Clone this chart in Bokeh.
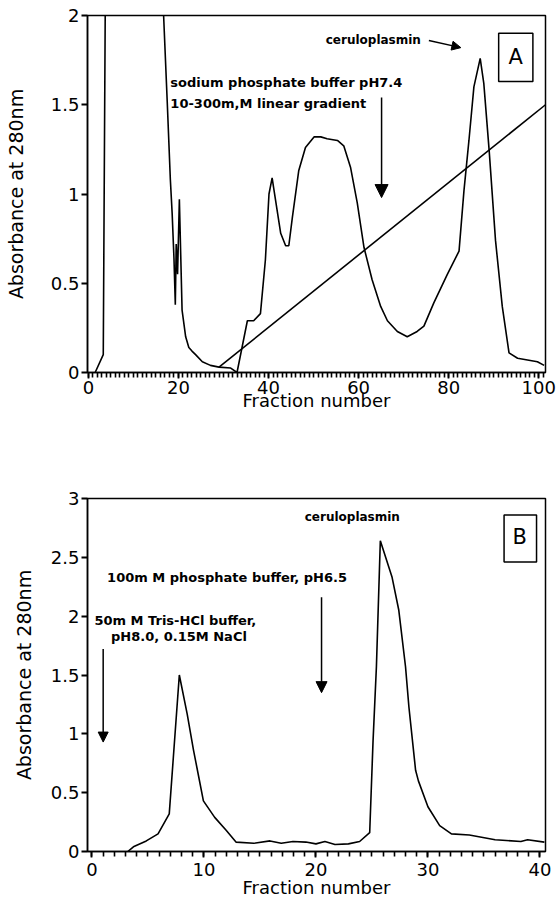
from bokeh.plotting import figure
from bokeh.models import FixedTicker, Arrow, NormalHead, BoxAnnotation, Range1d, Label
from bokeh.layouts import column
from bokeh.embed import file_html
from bokeh.resources import INLINE

# ---------------- Panel A data ----------------
frac_a = [1.5, 3.3, 3.8, 16.5, 16.7, 17.5, 18.2, 18.6, 19.0, 19.3, 19.5, 19.8, 20.2, 20.5, 20.8,
          21.6, 22.3, 23.0, 23.8, 25.3, 27.1, 29.0, 31.6, 33.0, 35.3, 36.7, 38.2, 39.3, 40.1,
          40.8, 41.1, 42.7, 43.8, 44.5, 45.3, 46.7, 48.2, 50.1, 51.6, 53.0, 55.3, 56.7, 58.2,
          59.7, 61.2, 63.0, 64.9, 66.4, 68.6, 70.8, 73.0, 74.5, 76.7, 79.7, 82.3, 83.4, 84.5,
          85.6, 87.0, 87.8, 89.0, 90.4, 91.9, 93.4, 95.3, 97.5, 99.7, 101.2]
abs_a = [0.0, 0.10, 2.3, 2.3, 2.0, 1.52, 1.08, 0.89, 0.64, 0.38, 0.72, 0.55, 0.97, 0.66, 0.35,
         0.20, 0.14, 0.12, 0.10, 0.06, 0.04, 0.03, 0.025, 0.0, 0.29, 0.29, 0.33, 0.63, 1.00,
         1.09, 1.04, 0.78, 0.71, 0.71, 0.87, 1.13, 1.26, 1.32, 1.32, 1.31, 1.30, 1.27, 1.15,
         0.95, 0.70, 0.52, 0.37, 0.29, 0.23, 0.20, 0.23, 0.26, 0.39, 0.55, 0.68, 1.02, 1.30,
         1.60, 1.76, 1.62, 1.24, 0.74, 0.37, 0.11, 0.08, 0.07, 0.06, 0.04]
gradient_frac_a = [29.0, 101.5]
gradient_abs_a = [0.03, 1.50]
x_ticks_a = [0, 20, 40, 60, 80, 100]
x_minor_ticks_a = list(range(0, 102))
y_ticks_a = [0, 0.5, 1, 1.5, 2]
y_tick_labels_a = ["0", "0.5", "1", "1.5", "2"]

# ---------------- Panel B data ----------------
frac_b = [3.2, 3.7, 4.85, 5.9, 6.9, 7.8, 8.5, 9.07, 9.5, 9.95, 10.96, 11.98, 12.86, 14.45,
          15.9, 16.9, 17.95, 19.1, 20.0, 20.8, 21.7, 22.9, 23.9, 24.8, 25.1, 25.4, 25.75,
          26.8, 27.4, 28.0, 28.3, 28.9, 29.15, 30.0, 31.05, 32.1, 33.7, 36.0, 38.3, 38.9, 40.4]
abs_b = [0.0, 0.04, 0.09, 0.15, 0.32, 1.50, 1.17, 0.86, 0.65, 0.43, 0.29, 0.18, 0.08, 0.07,
         0.09, 0.07, 0.085, 0.08, 0.065, 0.085, 0.06, 0.065, 0.085, 0.16, 0.94, 1.57, 2.64,
         2.33, 2.05, 1.57, 1.23, 0.69, 0.60, 0.38, 0.22, 0.15, 0.14, 0.10, 0.085, 0.10, 0.08]
x_ticks_b = [0, 10, 20, 30, 40]
x_minor_ticks_b = list(range(0, 41))
y_ticks_b = [0, 0.5, 1, 1.5, 2, 2.5, 3]
y_tick_labels_b = ["0", "0.5", "1", "1.5", "2", "2.5", "3"]

FONT = "DejaVu Sans"


def make_fig(height, xr, yr, bl, bt, bb, br, xticks, xminor, yticks, ylabels,
             ystand, xlabstand, xstand):
    p = figure(width=558, height=height, x_range=Range1d(*xr), y_range=Range1d(*yr),
               output_backend="svg", toolbar_location=None,
               min_border_left=bl, min_border_top=bt, min_border_bottom=bb, min_border_right=br)
    p.xgrid.visible = False
    p.ygrid.visible = False
    p.outline_line_color = "black"
    p.outline_line_width = 1.5
    p.outline_line_alpha = 1
    p.background_fill_color = "white"
    p.border_fill_color = "white"
    xax = p.xaxis[0]
    yax = p.yaxis[0]
    xax.ticker = FixedTicker(ticks=xticks, minor_ticks=xminor)
    yax.ticker = FixedTicker(ticks=yticks, minor_ticks=[])
    yax.major_label_overrides = dict(zip(yticks, ylabels))
    for ax in (xax, yax):
        ax.axis_line_width = 1.5
        ax.axis_line_color = "black"
        ax.major_tick_line_color = "black"
        ax.minor_tick_line_color = "black"
        ax.major_tick_line_width = 1.8
        ax.minor_tick_line_width = 1.6
        ax.major_tick_out = 6
        ax.major_tick_in = 0
        ax.minor_tick_in = 0
        ax.minor_tick_out = 5
        ax.major_label_text_font = FONT
        ax.major_label_text_font_size = "18px"
        ax.major_label_text_color = "black"
        ax.axis_label_text_font = FONT
        ax.axis_label_text_font_style = "normal"
        ax.axis_label_text_color = "black"
    xax.major_label_standoff = xlabstand
    yax.major_label_standoff = 2
    xax.axis_label = "Fraction number"
    xax.axis_label_text_font_size = "18px"
    xax.axis_label_standoff = xstand
    yax.axis_label = "Absorbance at 280nm"
    yax.axis_label_text_font_size = "19px"
    yax.axis_label_standoff = ystand
    return p


def note(p, x, y, text, size="13px", bold=True, align="left"):
    p.add_layout(Label(x=x, y=y, text=text, text_font=FONT,
                       text_font_style="bold" if bold else "normal",
                       text_font_size=size, text_color="black",
                       text_baseline="middle", text_align=align))


def arrow(p, x0, y0, x1, y1, size):
    p.add_layout(Arrow(end=NormalHead(size=size, fill_color="black", line_color="black", line_width=1),
                       x_start=x0, y_start=y0, x_end=x1, y_end=y1,
                       line_color="black", line_width=1.5))


def box(p, l, r, b, t):
    p.add_layout(BoxAnnotation(left=l, right=r, bottom=b, top=t, fill_alpha=0,
                               line_color="black", line_alpha=1, line_width=1.5))


# ---------------- Panel A ----------------
pa = make_fig(419, (-0.2, 101.5), (0, 2), 87, 15, 47, 13,
              x_ticks_a, x_minor_ticks_a, y_ticks_a, y_tick_labels_a, 21, 2, -7)
pa.line(frac_a, abs_a, line_color="black", line_width=1.6)
pa.line(gradient_frac_a, gradient_abs_a, line_color="black", line_width=1.6)
note(pa, 52.7, 1.865, "ceruloplasmin", size="12px")
arrow(pa, 75.6, 1.86, 82.7, 1.82, 9)
note(pa, 18.2, 1.625, "sodium phosphate buffer pH7.4")
note(pa, 18.2, 1.507, "10-300m,M linear gradient")
arrow(pa, 65.1, 1.54, 65.1, 0.98, 13)
box(pa, 91.1, 98.7, 1.63, 1.90)
note(pa, 94.9, 1.765, "A", size="21px", bold=False, align="center")

# ---------------- Panel B ----------------
pb = make_fig(488, (-0.4, 40.5), (0, 3), 80, 79, 56, 10,
              x_ticks_b, x_minor_ticks_b, y_ticks_b, y_tick_labels_b, 13, 5, -2)
pb.line(frac_b, abs_b, line_color="black", line_width=1.6)
note(pb, 19.0, 2.84, "ceruloplasmin", size="12px")
note(pb, 1.35, 2.33, "100m M phosphate buffer, pH6.5")
note(pb, 0.22, 1.96, "50m M Tris-HCl buffer,")
note(pb, 1.7, 1.83, "pH8.0, 0.15M NaCl")
arrow(pb, 1.0, 1.72, 1.0, 0.93, 10)
arrow(pb, 20.5, 2.16, 20.5, 1.35, 11)
box(pb, 36.8, 39.7, 2.46, 2.86)
note(pb, 38.2, 2.67, "B", size="21px", bold=False, align="center")

layout = column(pa, pb)
open("out.html", "w").write(file_html(layout, INLINE))
